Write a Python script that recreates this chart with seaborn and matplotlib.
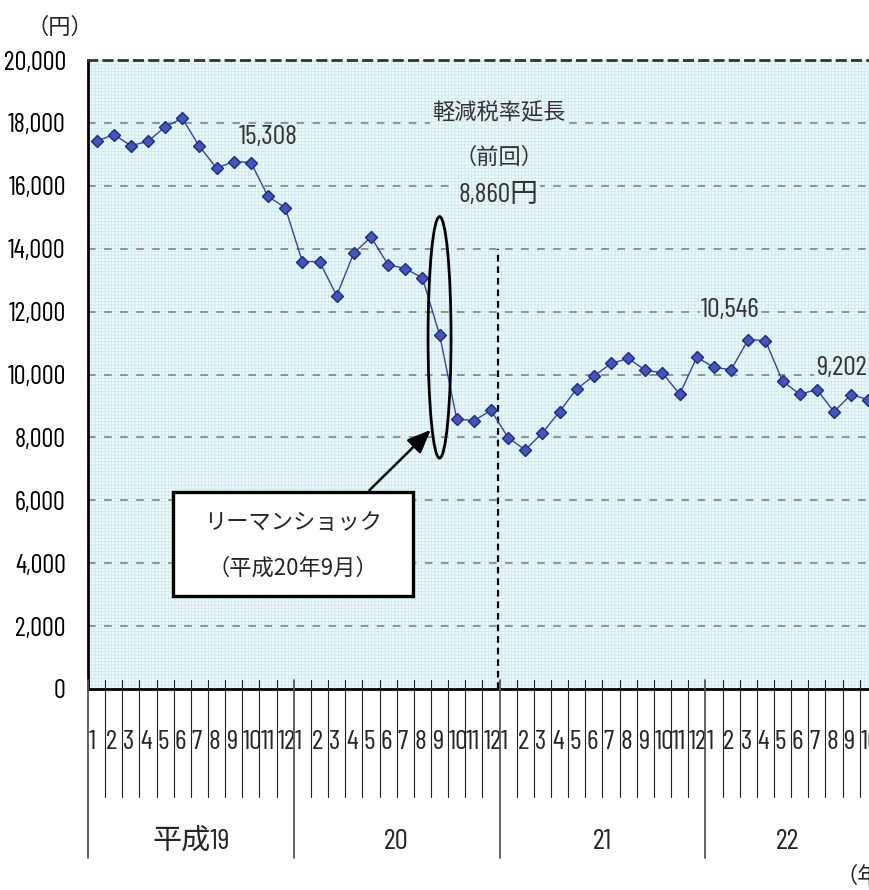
import numpy as np
import pandas as pd
import matplotlib
matplotlib.use('Agg')
import matplotlib.pyplot as plt
import matplotlib.transforms as mtransforms
from matplotlib.patches import Rectangle, Ellipse
import seaborn as sns

# ==========================================
# 設定
# ==========================================
OUTPUT_PNG = 'out.png'

# カテゴリ（年・月）
YEAR_LABELS = ['平成19', '20', '21', '22']
MONTH_LABELS = [str(m) for m in range(1, 13)]

# 月次の値（円）
VALUES_H19 = [17420, 17630, 17280, 17410, 17880, 18140, 17250, 16560, 16770, 16740, 15660, 15308]
VALUES_H20 = [13590, 13590, 12510, 13860, 14370, 13490, 13370, 13070, 11270, 8590, 8530, 8860]
VALUES_H21 = [7990, 7600, 8150, 8820, 9550, 9950, 10350, 10510, 10140, 10050, 9370, 10546]
VALUES_H22 = [10230, 10150, 11110, 11080, 9790, 9370, 9520, 8820, 9360, 9202]

Y_TICKS = [0, 2000, 4000, 6000, 8000, 10000, 12000, 14000, 16000, 18000, 20000]

BG = '#f2fafb'
HATCH_COLOR = '#cbe9ee'
LINE_COLOR = '#3444a8'
NUM_FONT = ['Barlow Condensed', 'Liberation Sans', 'Noto Sans CJK JP', 'DejaVu Sans']
JP_FONT = ['Noto Sans CJK JP', 'DejaVu Sans']

sns.set_theme(style='white')
plt.rcParams['font.family'] = NUM_FONT
plt.rcParams['hatch.linewidth'] = 0.6


def main():
    series = [VALUES_H19, VALUES_H20, VALUES_H21, VALUES_H22]
    rows = []
    for y, vals in enumerate(series):
        for m, v in enumerate(vals):
            rows.append({'idx': y * 12 + m, 'year': YEAR_LABELS[y],
                         'month': MONTH_LABELS[m], 'value': v})
    df = pd.DataFrame(rows)

    fig = plt.figure(figsize=(8.7, 8.9), dpi=100)
    ax = fig.add_axes([88 / 870, 201 / 890, 1 - 88 / 870, 629 / 890])
    x_max = 45.1
    ax.set_xlim(-0.5, x_max)
    ax.set_ylim(0, 20000)

    # 背景（方眼模様）
    ax.set_facecolor(BG)
    ax.add_patch(Rectangle((0, 0), 1, 1, transform=ax.transAxes, facecolor='none',
                           edgecolor=HATCH_COLOR, hatch='+++++', lw=0, zorder=0))

    # 横の点線グリッド
    for t in Y_TICKS[1:-1]:
        ax.axhline(t, color='#7a7a7a', lw=1.1, ls=(0, (5, 5.5)), zorder=1)

    sns.lineplot(data=df, x='idx', y='value', ax=ax, color=LINE_COLOR, lw=1.0,
                 marker='D', markersize=6, markerfacecolor='#4554b8',
                 markeredgecolor='#1d2a86', markeredgewidth=1.0, zorder=5)

    # 軸・スパイン
    ax.set_xlabel('')
    ax.set_ylabel('')
    ax.set_xticks([])
    ax.set_yticks(Y_TICKS)
    ax.set_yticklabels([f'{t:,}' for t in Y_TICKS], fontsize=19)
    ax.tick_params(axis='y', length=0, pad=16, colors='black')
    ax.spines['right'].set_visible(False)
    for s in ['left', 'bottom']:
        ax.spines[s].set_color('black')
        ax.spines[s].set_linewidth(2.0)
    ax.spines['top'].set_color('#333333')
    ax.spines['top'].set_linewidth(2.0)
    ax.spines['top'].set_linestyle((0, (3, 2.5)))

    # 月・年の区切り線とラベル
    trans = mtransforms.blended_transform_factory(ax.transData, ax.transAxes)
    n = len(df)
    for i in range(n + 1):
        xb = i - 0.5
        if i % 12 == 0:
            ax.plot([xb, xb], [0.014, -0.2687], transform=trans, clip_on=False,
                    color='#555555', lw=1.3, zorder=6)
        else:
            ax.plot([xb, xb], [0.014, -0.1717], transform=trans, clip_on=False,
                    color='#222222', lw=0.8, zorder=6)
    for i, row in df.iterrows():
        ax.text(row['idx'] - 0.45, -0.084, row['month'], transform=trans,
                ha='left', va='center', fontsize=20, clip_on=False)
    for y, lab in enumerate(YEAR_LABELS):
        start = y * 12 - 0.5
        end = min(start + 12, x_max)
        ax.text((start + end) / 2, -0.243, lab, transform=trans, ha='center',
                va='center', fontsize=21, clip_on=False)

    # 注記（グリッド線を隠す背景付き）
    mask = dict(facecolor=BG, edgecolor=HATCH_COLOR, lw=0, hatch='+++++', pad=1)
    ax.text(9.99, 17550, f'{VALUES_H19[11]:,}', ha='center', va='center',
            fontsize=20, color='#333333', bbox=mask, zorder=4)
    ax.text(23.44, 18310, '軽減税率延長', ha='center', va='center', fontsize=16,
            family=JP_FONT, color='#333333', bbox=mask, zorder=4)
    ax.text(23.44, 16920, '（前回）', ha='center', va='center', fontsize=16,
            family=JP_FONT, color='#333333', bbox=mask, zorder=4)
    ax.text(23.44, 15710, f'{VALUES_H20[11]:,}円', ha='center', va='center',
            fontsize=20, color='#333333', bbox=mask, zorder=4)
    ax.text(36.95, 12050, f'{VALUES_H21[11]:,}', ha='center', va='center',
            fontsize=20, color='#333333', bbox=mask, zorder=4)
    ax.text(43.42, 10210, f'{VALUES_H22[9]:,}', ha='center', va='center',
            fontsize=20, color='#333333', bbox=mask, zorder=4)

    # 前回延長時の縦線
    ax.plot([23.38, 23.38], [0, 14000], color='black', lw=1.6,
            ls=(0, (3, 2.2)), zorder=3)

    # リーマンショックの楕円・矢印・枠
    ax.add_patch(Ellipse((20, 11180), 1.34, 7680, facecolor='none',
                         edgecolor='black', lw=2.0, zorder=7))
    ax.annotate('', xy=(19.6, 8300), xytext=(15.8, 6260),
                arrowprops=dict(arrowstyle='-|>,head_length=1.2,head_width=0.5',
                                color='black', lw=1.8), zorder=7)
    ax.add_patch(Rectangle((4.46, 2960), 13.97, 3300, facecolor='white',
                           edgecolor='black', lw=2.4, zorder=8))
    ax.text(11.44, 5310, 'リーマンショック', ha='center', va='center',
            fontsize=16, family=JP_FONT, zorder=9)
    ax.text(11.44, 3850, '（平成20年9月）', ha='center', va='center',
            fontsize=16, family=JP_FONT, zorder=9)

    # 単位
    fig.text(60 / 870, 1 - 27 / 890, '（円）', ha='center', va='center',
             fontsize=16, family=JP_FONT)
    fig.text(836 / 870, 1 - 876 / 890, '（年）', ha='left', va='center',
             fontsize=16, family=JP_FONT)

    fig.savefig(OUTPUT_PNG, dpi=100)


if __name__ == '__main__':
    main()
